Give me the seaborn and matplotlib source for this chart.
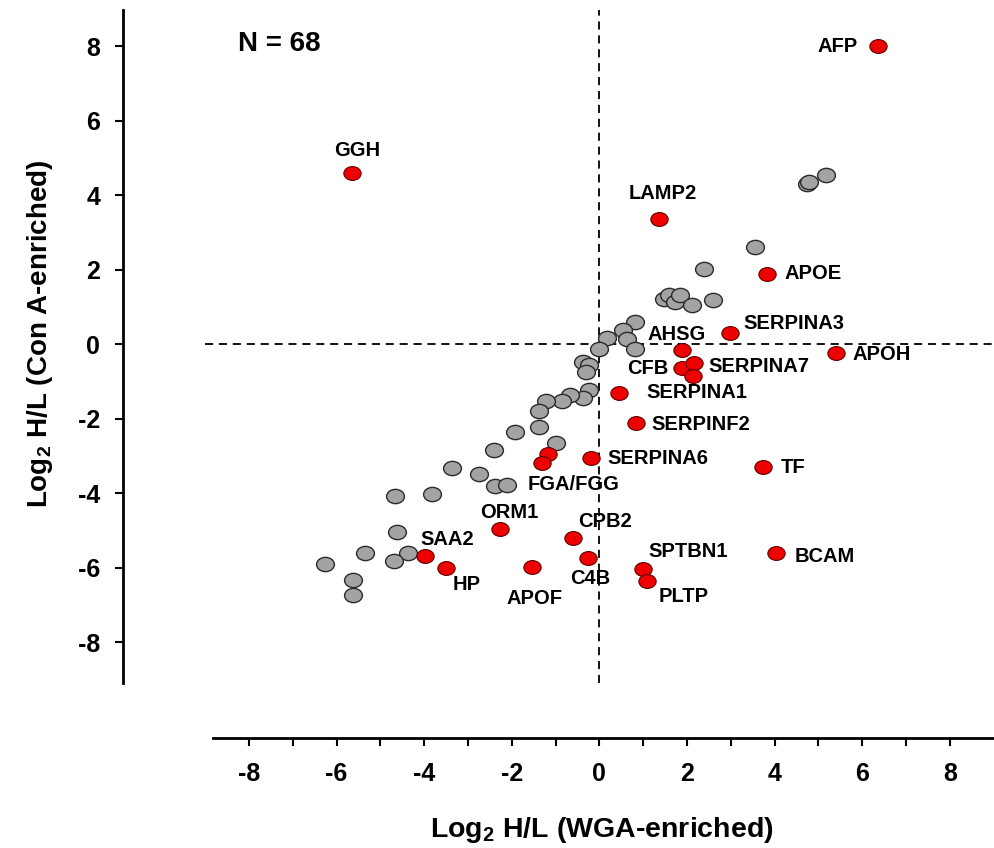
import numpy as np
import pandas as pd
import matplotlib
matplotlib.use("Agg")
import matplotlib.pyplot as plt
import seaborn as sns
from matplotlib.path import Path
from matplotlib.markers import MarkerStyle
from matplotlib.transforms import Affine2D

# ---------------- data ----------------
gray_x = [4.74, 4.78, 5.17, 3.55, 2.39,
          1.48, 1.59, 1.72, 1.85, 2.11, 2.60,
          0.81, 0.54, 0.62, 0.18, 0.81, 0.00,
          -0.37, -0.24, -0.30,
          -0.23, -0.38, -0.67, -0.86, -1.21, -1.39, -1.39, -1.93, -1.00,
          -2.40, -3.37, -2.75, -2.39, -2.12, -4.67, -3.83, -4.63, -4.37,
          -4.69, -5.35, -6.26, -5.62, -5.62]
gray_y = [4.31, 4.36, 4.54, 2.60, 2.01,
          1.20, 1.32, 1.14, 1.32, 1.05, 1.18,
          0.60, 0.38, 0.13, 0.15, -0.12, -0.12,
          -0.48, -0.55, -0.74,
          -1.22, -1.46, -1.37, -1.54, -1.52, -1.80, -2.23, -2.35, -2.65,
          -2.85, -3.34, -3.49, -3.80, -3.79, -4.07, -4.03, -5.04, -5.60,
          -5.83, -5.62, -5.91, -6.34, -6.74]

red_names = ["AFP", "GGH", "LAMP2", "APOE", "SERPINA3", "AHSG", "CFB",
             "SERPINA7", "", "SERPINA1", "SERPINF2", "APOH", "SERPINA6",
             "TF", "", "FGA/FGG", "ORM1", "CPB2", "C4B", "APOF", "SAA2",
             "HP", "SPTBN1", "PLTP", "BCAM"]
red_x = [6.36, -5.65, 1.37, 3.82, 2.98, 1.88, 1.88,
         2.16, 2.13, 0.45, 0.83, 5.40, -0.19,
         3.73, -1.17, -1.32, -2.27, -0.61, -0.26, -1.53, -3.97,
         -3.50, 0.99, 1.09, 4.03]
red_y = [8.00, 4.59, 3.37, 1.87, 0.29, -0.16, -0.63,
         -0.52, -0.86, -1.31, -2.12, -0.25, -3.06,
         -3.30, -2.95, -3.19, -4.97, -5.22, -5.74, -5.99, -5.68,
         -6.01, -6.05, -6.36, -5.61]

x_ticks = [-8, -6, -4, -2, 0, 2, 4, 6, 8]
x_minor = [-7, -5, -3, -1, 1, 3, 5, 7]
y_ticks = [-8, -6, -4, -2, 0, 2, 4, 6, 8]
n_text = "N = 68"
x_label = r"Log$_\mathbf{2}$ H/L (WGA-enriched)"
y_label = r"Log$_\mathbf{2}$ H/L (Con A-enriched)"

# label placement: (dx px, dy px, horizontal alignment)
label_pos = {
    "AFP": (-20, 0, "right"), "GGH": (5, 23, "center"), "LAMP2": (3, 25, "center"),
    "APOE": (18, 1, "left"), "SERPINA3": (13, 10, "left"), "AHSG": (-5, 16, "center"),
    "CFB": (-13, -1, "right"), "SERPINA7": (14, -3, "left"), "SERPINA1": (27, 0, "left"),
    "SERPINF2": (16, -1, "left"), "APOH": (17, -1, "left"), "SERPINA6": (16, 0, "left"),
    "TF": (18, -1, "left"), "FGA/FGG": (32, -22, "center"), "ORM1": (9, 17, "center"),
    "CPB2": (32, 17, "center"), "C4B": (2, -21, "center"), "APOF": (2, -31, "center"),
    "SAA2": (22, 16, "center"), "HP": (21, -17, "center"), "SPTBN1": (45, 18, "center"),
    "PLTP": (37, -16, "center"), "BCAM": (19, -3, "left"),
}

# ---------------- style ----------------
sns.set_style("ticks")
plt.rcParams["font.family"] = ["Liberation Sans", "DejaVu Sans"]
plt.rcParams["font.weight"] = "bold"
plt.rcParams["text.color"] = "black"
plt.rcParams["axes.labelcolor"] = "black"
plt.rcParams["axes.edgecolor"] = "black"
plt.rcParams["xtick.color"] = "black"
plt.rcParams["ytick.color"] = "black"
plt.rcParams["mathtext.fontset"] = "custom"
plt.rcParams["mathtext.rm"] = "Liberation Sans:bold"
plt.rcParams["mathtext.bf"] = "Liberation Sans:bold"
plt.rcParams["mathtext.it"] = "Liberation Sans:bold"

W, H = 995, 848
fig = plt.figure(figsize=(W / 100, H / 100), dpi=100)
ax = fig.add_axes([213 / W, (H - 683) / H, (995 - 213) / W, (683 - 10) / H])

ell = Path.unit_circle().transformed(Affine2D().scale(1.0, 0.8))
marker = MarkerStyle(ell)

gray_df = pd.DataFrame({"x": gray_x, "y": gray_y})
red_df = pd.DataFrame({"x": red_x, "y": red_y, "name": red_names})

sns.scatterplot(data=gray_df, x="x", y="y", ax=ax, marker=marker, s=165,
                color="#A3A3A3", edgecolor="#2a2a2a", linewidth=1.0, zorder=3)
sns.scatterplot(data=red_df, x="x", y="y", ax=ax, marker=marker, s=155,
                color="#EE0000", edgecolor="#600000", linewidth=0.8, zorder=4)

# dashed reference lines
ax.axvline(0, color="black", ls=(0, (4.5, 3.2)), lw=1.3, zorder=1)
ax.plot([-9.0, 9.03], [0, 0], color="black", ls=(0, (4.5, 3.2)), lw=1.3,
        zorder=1, clip_on=False)

for nm, xv, yv in zip(red_names, red_x, red_y):
    if nm in label_pos:
        dx, dy, ha = label_pos[nm]
        ax.annotate(nm, (xv, yv), xytext=(dx, dy), textcoords="offset pixels",
                    ha=ha, va="center", fontsize=14.5, fontweight="bold",
                    color="black", zorder=5)

# spines
for s in ["top", "right"]:
    ax.spines[s].set_visible(False)
ax.spines["left"].set_position(("outward", 90 * 0.72))
ax.spines["bottom"].set_position(("outward", 55 * 0.72))
ax.spines["left"].set_linewidth(2.0)
ax.spines["bottom"].set_linewidth(2.0)

ax.set_xticks(x_ticks)
ax.set_yticks(y_ticks)
ax.set_xticks(x_minor, minor=True)
ax.set_xticklabels([str(t) for t in x_ticks])
ax.set_yticklabels([str(t) for t in y_ticks])
ax.tick_params(axis="x", which="both", direction="out", length=5.5, width=1.5,
               labelsize=18, pad=12, color="black", labelcolor="black")
ax.tick_params(axis="y", which="major", direction="out", length=5.5, width=1.5,
               labelsize=18, pad=11, color="black", labelcolor="black")
for lab in ax.get_xticklabels() + ax.get_yticklabels():
    lab.set_fontweight("bold")

ax.set_xlabel("")
ax.set_ylabel("")
fig.text(602 / W, 1 - 830 / H, x_label, ha="center", va="center",
         fontsize=20.5, fontweight="bold")
fig.text(40 / W, 1 - 334 / H, y_label, ha="center", va="center",
         rotation=90, fontsize=20, fontweight="bold")
fig.text(279 / W, 1 - 44 / H, n_text, ha="center", va="center",
         fontsize=20, fontweight="bold")

ax.set_xlim(-8.82, 9.03)
ax.set_ylim(-9.10, 8.97)

fig.savefig("out.png", dpi=100)
